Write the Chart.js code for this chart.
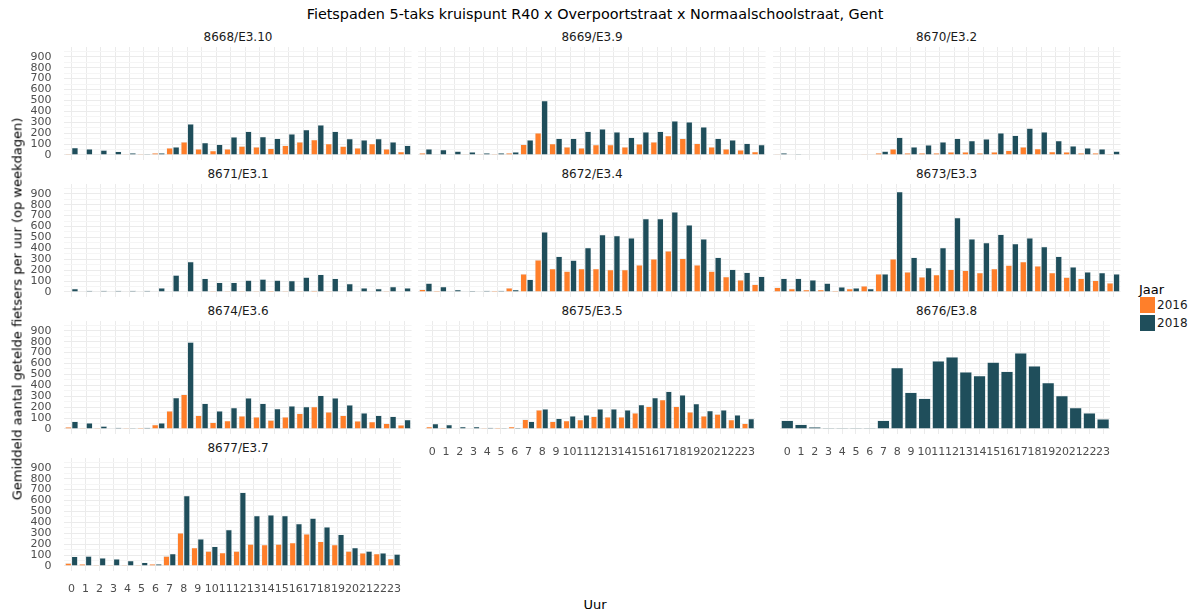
<!DOCTYPE html>
<html>
<head>
<meta charset="utf-8">
<script src="https://cdn.jsdelivr.net/npm/chart.js@4.4.0/dist/chart.umd.min.js"></script>
<style>
  body { margin: 0; background: #fff; font-family: "DejaVu Sans", sans-serif; }
  #wrap { position: relative; width: 1195px; height: 614px; overflow: hidden; }
  .txt { position: absolute; white-space: nowrap; color: #1a1a1a; line-height: 1; }
  canvas { position: absolute; }
  .key { position: absolute; width: 15px; height: 16px; }
</style>
</head>
<body>
<div id="wrap"></div>
<script>
const hours = ['0','1','2','3','4','5','6','7','8','9','10','11','12','13','14','15','16','17','18','19','20','21','22','23'];
const years = ['2016', '2018'];
const stations = ['8668/E3.10', '8669/E3.9', '8670/E3.2', '8671/E3.1', '8672/E3.4', '8673/E3.3', '8674/E3.6', '8675/E3.5', '8676/E3.8', '8677/E3.7'];

// gemiddelde tellingen per uur, per meetpunt
const c8668_2016 = [10, 3, 3, 2, 1, 9, 18, 64, 119, 55, 40, 55, 82, 73, 61, 89, 119, 141, 104, 80, 64, 104, 55, 30];
const c8668_2018 = [67, 55, 45, 33, 18, 10, 18, 73, 284, 113, 98, 165, 217, 168, 153, 193, 232, 275, 217, 150, 138, 150, 119, 89];
const c8669_2016 = [18, 3, 2, 1, 1, 9, 18, 98, 202, 104, 73, 64, 95, 95, 73, 101, 119, 177, 153, 107, 73, 55, 46, 30];
const c8669_2018 = [55, 49, 34, 28, 18, 18, 28, 138, 498, 153, 153, 217, 239, 211, 162, 211, 217, 312, 303, 257, 153, 138, 107, 95];
const c8670_2016 = [1, 0, 0, 0, 0, 0, 1, 18, 55, 18, 18, 18, 28, 28, 18, 28, 43, 73, 58, 30, 28, 18, 18, 9];
const c8670_2018 = [18, 9, 3, 3, 2, 2, 3, 34, 162, 73, 92, 119, 153, 131, 147, 202, 180, 245, 211, 131, 83, 64, 55, 34];
const c8671_2016 = [0, 0, 0, 0, 0, 0, 0, 2, 6, 5, 9, 9, 8, 8, 12, 9, 9, 15, 9, 6, 4, 4, 8, 0];
const c8671_2018 = [31, 15, 15, 15, 15, 15, 37, 155, 279, 124, 87, 87, 108, 118, 108, 105, 136, 161, 124, 77, 37, 31, 50, 37];
const c8672_2016 = [24, 12, 6, 3, 6, 12, 37, 165, 294, 214, 190, 214, 214, 205, 205, 248, 303, 376, 309, 248, 190, 141, 110, 70];
const c8672_2018 = [80, 49, 21, 12, 15, 15, 21, 116, 550, 327, 291, 407, 526, 517, 495, 673, 673, 734, 615, 486, 318, 208, 180, 144];
const c8673_2016 = [43, 31, 21, 21, 12, 31, 55, 165, 303, 183, 138, 159, 208, 199, 177, 214, 245, 278, 239, 177, 135, 125, 107, 83];
const c8673_2018 = [125, 125, 110, 80, 46, 37, 31, 165, 920, 318, 223, 407, 682, 486, 453, 529, 443, 495, 416, 327, 229, 183, 177, 165];
const c8674_2016 = [18, 9, 9, 3, 9, 12, 40, 165, 318, 125, 61, 76, 119, 110, 82, 110, 144, 205, 156, 125, 73, 67, 52, 37];
const c8674_2018 = [70, 55, 27, 15, 9, 15, 55, 287, 797, 235, 165, 195, 284, 235, 186, 211, 205, 308, 284, 220, 147, 125, 116, 85];
const c8675_2016 = [21, 12, 6, 6, 9, 12, 21, 89, 174, 70, 76, 86, 116, 110, 110, 147, 208, 269, 208, 156, 119, 137, 86, 52];
const c8675_2018 = [49, 40, 21, 21, 15, 9, 12, 70, 183, 98, 119, 128, 183, 183, 174, 223, 287, 345, 312, 232, 168, 174, 128, 95];
const c8676_2018 = [79, 43, 18, 9, 9, 9, 9, 79, 562, 336, 281, 624, 660, 523, 489, 612, 529, 697, 578, 425, 306, 196, 147, 92];
const c8677_2016 = [27, 18, 9, 9, 9, 9, 18, 91, 304, 167, 137, 122, 137, 201, 195, 201, 213, 295, 225, 195, 137, 119, 112, 67];
const c8677_2018 = [88, 91, 73, 64, 49, 33, 18, 112, 644, 249, 179, 334, 675, 462, 468, 462, 389, 438, 359, 289, 167, 137, 119, 109];

const yTickValues = [0, 50, 100, 150, 200, 250, 300, 350, 400, 450, 500, 550, 600, 650, 700, 750, 800, 850, 900, 950];

const orange = '#FF7F2A';
const teal = '#1F4E5B';

// per paneel: [2016, 2018]; 8676 heeft enkel 2018
const panelSeries = [
  [c8668_2016, c8668_2018],
  [c8669_2016, c8669_2018],
  [c8670_2016, c8670_2018],
  [c8671_2016, c8671_2018],
  [c8672_2016, c8672_2018],
  [c8673_2016, c8673_2018],
  [c8674_2016, c8674_2018],
  [c8675_2016, c8675_2018],
  [null, c8676_2018],
  [c8677_2016, c8677_2018]
];

const wrap = document.getElementById('wrap');

function addText(str, x, y, size, opts) {
  const d = document.createElement('div');
  d.className = 'txt';
  d.textContent = str;
  d.style.fontSize = size + 'px';
  d.style.left = x + 'px';
  d.style.top = y + 'px';
  let tf = 'translate(-50%, -50%)';
  if (opts && opts.rotate) tf += ' rotate(-90deg)';
  if (opts && opts.left) tf = 'translate(0, -50%)';
  d.style.transform = tf;
  if (opts && opts.color) d.style.color = opts.color;
  wrap.appendChild(d);
}

const colLeft = [63, 417, 771.5];
const panelW = 350;
const yLabW = 63;
const edge = 1.45;       // extra ruimte links/rechts van de uren
const unitPx = 0.1092;   // pixels per fietser
const yMin = -46, yMax = 990;
const panelH = (yMax - yMin) * unitPx;

stations.forEach((name, i) => {
  const r = Math.floor(i / 3), c = i % 3;
  const zero = 155 + r * 136.9;
  const top = zero - yMax * unitPx;
  const showY = c === 0;
  const showX = i === 7 || i === 8 || i === 9;
  const xH = showX ? 30 : 0;

  addText(name, colLeft[c] + panelW / 2, zero - 117.6, 12);

  const cv = document.createElement('canvas');
  const left = colLeft[c] - (showY ? yLabW : 0);
  const w = panelW + (showY ? yLabW : 0);
  cv.width = Math.round(w);
  cv.height = Math.round(panelH + xH);
  cv.style.left = left + 'px';
  cv.style.top = top + 'px';
  wrap.appendChild(cv);

  const datasets = [];
  panelSeries[i].forEach((vals, k) => {
    if (!vals) return;
    datasets.push({
      label: years[k],
      data: vals,
      backgroundColor: k === 0 ? orange : teal,
      borderColor: 'rgba(225,231,234,0.85)',
      borderWidth: 0.6,
      barPercentage: 1.0,
      categoryPercentage: 0.9
    });
  });

  new Chart(cv.getContext('2d'), {
    type: 'bar',
    data: { labels: hours, datasets: datasets },
    options: {
      responsive: false,
      animation: false,
      layout: { autoPadding: false, padding: { left: 0, right: edge, top: 0, bottom: 0 } },
      plugins: { legend: { display: false }, tooltip: { enabled: false } },
      scales: {
        x: {
          grid: { offset: false, color: '#EBEBEB', drawTicks: false },
          border: { display: false },
          ticks: { display: showX, autoSkip: false, maxRotation: 0, padding: 12, color: '#4D4D4D', font: { family: 'DejaVu Sans', size: 11 } },
          afterFit: s => { s.height = xH; }
        },
        y: {
          min: yMin,
          max: yMax,
          afterBuildTicks: s => { s.ticks = yTickValues.map(v => ({ value: v })); },
          grid: {
            drawTicks: false,
            color: ctx => (ctx.tick && ctx.tick.value % 100 === 0) ? '#EBEBEB' : '#F5F5F5'
          },
          border: { display: false },
          ticks: {
            display: showY,
            autoSkip: false,
            padding: 13,
            color: '#4D4D4D',
            font: { family: 'DejaVu Sans', size: 11 },
            callback: v => (v % 100 === 0 ? String(v) : '')
          },
          afterFit: s => { s.width = (showY ? yLabW : 0) + edge; s.paddingTop = 0; s.paddingBottom = 0; }
        }
      }
    }
  });
});

addText('Fietspaden 5-taks kruispunt R40 x Overpoortstraat x Normaalschoolstraat, Gent', 595, 14, 14.4, { color: '#000' });
addText('Gemiddeld aantal getelde fietsers per uur (op weekdagen)', 17, 309, 13, { rotate: true, color: '#000' });
addText('Uur', 595, 604, 13, { color: '#000' });

// legende
addText('Jaar', 1139, 289, 13, { left: true, color: '#000' });
[orange, teal].forEach((col, k) => {
  const d = document.createElement('div');
  d.className = 'key';
  d.style.background = col;
  d.style.left = '1140px';
  d.style.top = (297 + k * 18) + 'px';
  wrap.appendChild(d);
  addText(years[k], 1157, 305 + k * 18, 12, { left: true });
});
</script>
</body>
</html>
